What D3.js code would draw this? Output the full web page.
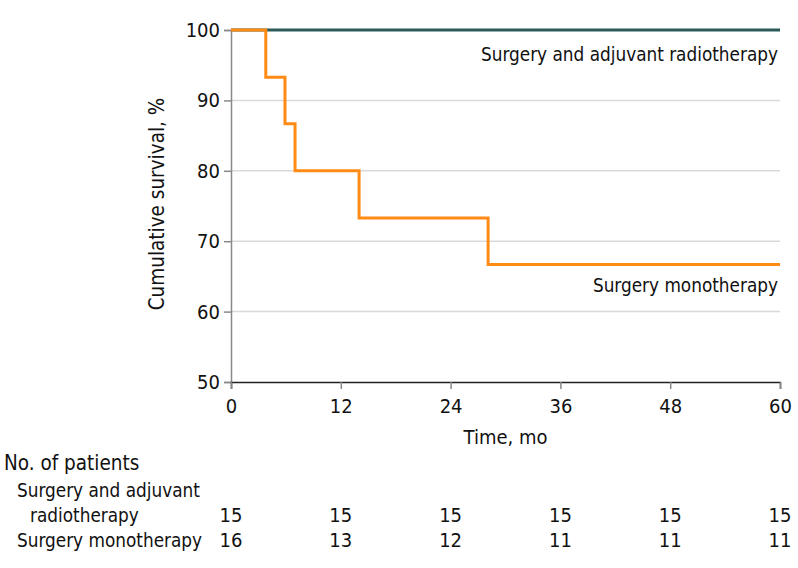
<!DOCTYPE html>
<html><head><meta charset="utf-8">
<script src="https://cdn.jsdelivr.net/npm/d3@7"></script>
<style>
body{margin:0;background:#fff;}
text{font-family:"DejaVu Sans Condensed","Liberation Sans Narrow",sans-serif;fill:#111;}
</style></head>
<body><svg id="c" width="798" height="568"></svg>
<script>
const xTicks = [0, 12, 24, 36, 48, 60];
const yTicks = [50, 60, 70, 80, 90, 100];
const seriesNames = ["Surgery and adjuvant radiotherapy", "Surgery monotherapy"];
const adjuvantTimes = [0, 60];
const adjuvantSurv = [100, 100];
const monoTimes = [0, 3.8, 5.9, 7.0, 14.0, 28.1, 60];
const monoSurv = [100, 93.3, 86.7, 80.0, 73.3, 66.7, 66.7];
const riskLabels = [["Surgery and adjuvant", "radiotherapy"], ["Surgery monotherapy"]];
const riskAdjuvant = [15, 15, 15, 15, 15, 15];
const riskMono = [16, 13, 12, 11, 11, 11];

const svg = d3.select("#c");
const x = d3.scaleLinear().domain([0, 60]).range([231, 780]);
const y = d3.scaleLinear().domain([50, 100]).range([382, 30]);

// gridlines
svg.append("g").selectAll("line").data(yTicks.filter(d => d > 50 && d < 100)).join("line")
  .attr("x1", x(0)).attr("x2", x(60)).attr("y1", d => y(d)).attr("y2", d => y(d))
  .attr("stroke", "#d9d9d9").attr("stroke-width", 1.5);

// y axis
const yAx = svg.append("g").attr("transform", `translate(${x(0)},0)`)
  .call(d3.axisLeft(y).tickValues(yTicks).tickSize(7).tickPadding(4));
yAx.select(".domain").attr("stroke", "#888").attr("stroke-width", 1.5);
yAx.selectAll(".tick line").attr("stroke", "#888").attr("stroke-width", 1.5);
yAx.selectAll("text").style("font-size", "20px").attr("fill", "#111");

// x axis
const xAx = svg.append("g").attr("transform", `translate(0,${y(50)})`)
  .call(d3.axisBottom(x).tickValues(xTicks).tickSize(7).tickPadding(10));
xAx.select(".domain").attr("stroke", "#222").attr("stroke-width", 1.5);
xAx.selectAll(".tick line").attr("stroke", "#888").attr("stroke-width", 1.5);
xAx.selectAll("text").style("font-size", "20px").attr("fill", "#111");

// axis titles
svg.append("text").attr("x", (x(0) + x(60)) / 2).attr("y", 444).attr("text-anchor", "middle")
  .style("font-size", "20px").text("Time, mo");
svg.append("text").attr("transform", `translate(164,${y(75) - 2}) rotate(-90)`).attr("text-anchor", "middle")
  .style("font-size", "20.5px").text("Cumulative survival, %");

// curves
const line = d3.line().curve(d3.curveStepAfter).x(d => x(d[0])).y(d => y(d[1]));
svg.append("path").datum(adjuvantTimes.map((t, i) => [t, adjuvantSurv[i]]))
  .attr("d", line).attr("fill", "none").attr("stroke", "#2b5a5a").attr("stroke-width", 3);
svg.append("path").datum(monoTimes.map((t, i) => [t, monoSurv[i]]))
  .attr("d", line).attr("fill", "none").attr("stroke", "#ff8a14").attr("stroke-width", 3);

// labels
svg.append("text").attr("x", 778).attr("y", 61).attr("text-anchor", "end").style("font-size", "18.8px").text(seriesNames[0]);
svg.append("text").attr("x", 778).attr("y", 292).attr("text-anchor", "end").style("font-size", "18.8px").text(seriesNames[1]);

// risk table
svg.append("text").attr("x", 4).attr("y", 470).style("font-size", "20.5px").text("No. of patients");
svg.append("text").attr("x", 17).attr("y", 497).style("font-size", "18.8px").text(riskLabels[0][0]);
svg.append("text").attr("x", 30).attr("y", 522).style("font-size", "18.8px").text(riskLabels[0][1]);
svg.append("text").attr("x", 17).attr("y", 547).style("font-size", "18.8px").text(riskLabels[1][0]);
svg.append("g").selectAll("text").data(riskAdjuvant).join("text")
  .attr("x", (d, i) => x(xTicks[i])).attr("y", 522).attr("text-anchor", "middle").style("font-size", "20px").text(d => d);
svg.append("g").selectAll("text").data(riskMono).join("text")
  .attr("x", (d, i) => x(xTicks[i])).attr("y", 547).attr("text-anchor", "middle").style("font-size", "20px").text(d => d);
</script></body></html>
